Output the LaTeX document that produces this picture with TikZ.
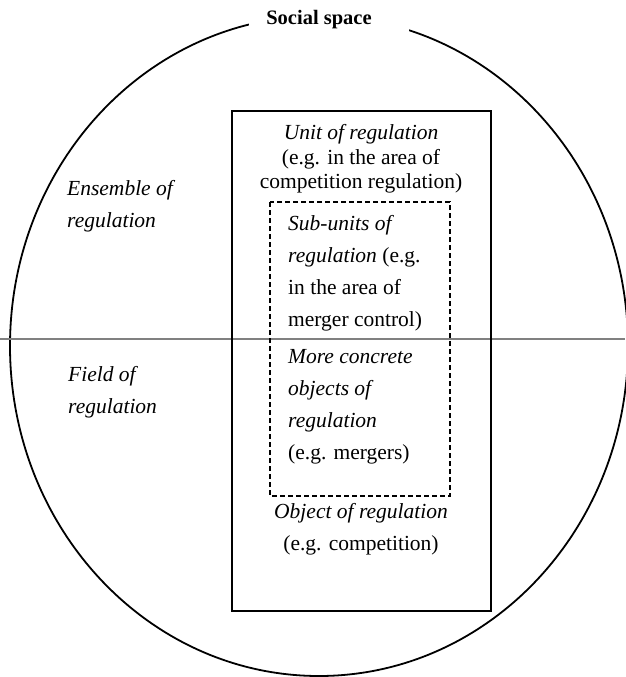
\documentclass[tikz,border=0pt]{standalone}
\usepackage{fontspec}
\setmainfont{Liberation Serif}
\usetikzlibrary{shapes}

\tikzset{
  txt/.style={inner sep=0pt,font=\fontsize{21.5}{32}\selectfont},
  tighttxt/.style={inner sep=0pt,font=\fontsize{21.5}{24.5}\selectfont}
}

\begin{document}
\begin{tikzpicture}[x=1pt,y=-1pt]
\useasboundingbox (0,0) rectangle (625,677);

% the social space and the line across it
\draw[line width=1.8pt] (319,346) ellipse (309 and 330);
\fill[white] (249,0) rectangle (409,42);
\draw[gray,line width=1.1pt] (0,339) -- (625,339);
\node[inner sep=0pt,font=\bfseries\fontsize{20.5}{24}\selectfont] (social) at (319,20) {Social space};

% unit of regulation and its sub-units
\draw[line width=1.4pt] (232,111) rectangle (491,611);
\draw[dashed,line width=1.1pt,dash pattern=on 5pt off 3pt] (270,202) rectangle (450,496);

% left hand labels
\node[txt,align=left,anchor=west] (ensemble) at (67,206) {\textit{Ensemble of}\\\textit{regulation}};
\node[txt,align=left,anchor=west] (field) at (68,392) {\textit{Field of}\\\textit{regulation}};

% inside the boxes
\node[tighttxt,align=center] (unit) at (361,159)
  {\textit{Unit of regulation}\\(e.g. in the area of\\competition regulation)};
\node[txt,align=left,anchor=west] (subunits) at (288,273)
  {\textit{Sub-units of}\\\textit{regulation} (e.g.\\in the area of\\merger control)};
\node[txt,align=left,anchor=west] (concrete) at (288,407)
  {\textit{More concrete}\\\textit{objects of}\\\textit{regulation}\\(e.g. mergers)};
\node[txt,align=center] (object) at (361,529)
  {\textit{Object of regulation}\\(e.g. competition)};
\end{tikzpicture}
\end{document}
